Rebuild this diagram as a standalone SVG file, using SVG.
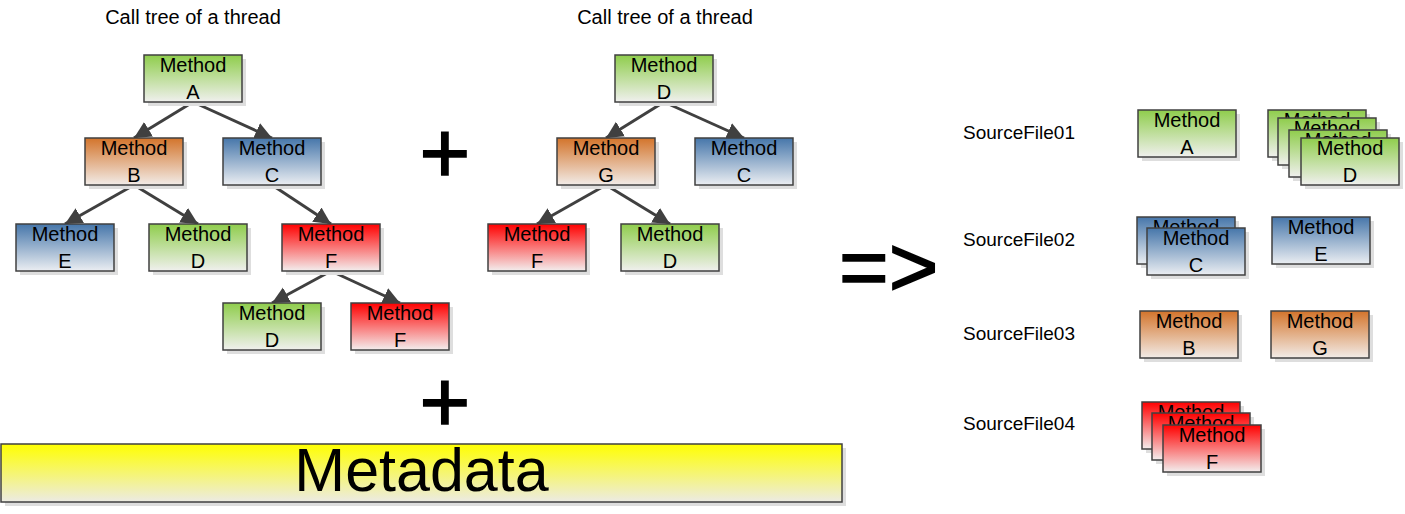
<svg xmlns="http://www.w3.org/2000/svg" width="1405" height="514" viewBox="0 0 1405 514">
<style>
text{font-family:"Liberation Sans",Arial,sans-serif;fill:#000}
.t{font-size:20px;text-anchor:middle}
.lbl{font-size:19px}
.title{font-size:20px;text-anchor:middle}
.box{stroke:#404040;stroke-width:1.5}
.sh{fill:#dedede}
.g{fill:url(#gGreen)}
.o{fill:url(#gOrange)}
.b{fill:url(#gBlue)}
.r{fill:url(#gRed)}
.edge{stroke:#404040;stroke-width:3;fill:none;marker-end:url(#ah)}
.big{font-size:87px;text-anchor:middle;stroke:#000;stroke-width:1.6}
</style>
<defs>
<linearGradient id="gGreen" x1="0" y1="0" x2="0" y2="1"><stop offset="0" stop-color="#8fcd4c"/><stop offset="1" stop-color="#f0f0ee"/></linearGradient>
<linearGradient id="gOrange" x1="0" y1="0" x2="0" y2="1"><stop offset="0" stop-color="#d3742b"/><stop offset="1" stop-color="#f2ece8"/></linearGradient>
<linearGradient id="gBlue" x1="0" y1="0" x2="0" y2="1"><stop offset="0" stop-color="#4676aa"/><stop offset="1" stop-color="#ebeef2"/></linearGradient>
<linearGradient id="gRed" x1="0" y1="0" x2="0" y2="1"><stop offset="0" stop-color="#ff0000"/><stop offset="1" stop-color="#f3eeee"/></linearGradient>
<linearGradient id="gYellow" x1="0" y1="0" x2="0" y2="1"><stop offset="0" stop-color="#ffff00"/><stop offset="1" stop-color="#ecebe4"/></linearGradient>
<marker id="ah" markerUnits="userSpaceOnUse" markerWidth="18" markerHeight="18" refX="17" refY="8.5" orient="auto">
<path d="M0,0 L17,8.5 L0,17 Z" fill="#404040"/>
</marker>
</defs>

<text class="title" x="193" y="24">Call tree of a thread</text>
<text class="title" x="665" y="24">Call tree of a thread</text>

<g id="connectors">
<line class="edge" x1="193" y1="102" x2="134" y2="138"/>
<line class="edge" x1="193" y1="102" x2="272" y2="138"/>
<line class="edge" x1="134" y1="185" x2="65" y2="224"/>
<line class="edge" x1="134" y1="185" x2="198" y2="224"/>
<line class="edge" x1="272" y1="185" x2="331" y2="224"/>
<line class="edge" x1="331" y1="271" x2="272" y2="303"/>
<line class="edge" x1="331" y1="271" x2="400" y2="303"/>
<line class="edge" x1="664" y1="102" x2="606" y2="138"/>
<line class="edge" x1="664" y1="102" x2="744" y2="138"/>
<line class="edge" x1="606" y1="185" x2="537" y2="224"/>
<line class="edge" x1="606" y1="185" x2="670" y2="224"/>
</g>

<!-- Tree 1 -->
<g id="t1A"><rect class="sh" x="148" y="59" width="98" height="47"/><rect class="box g" x="144" y="55" width="98" height="47"/><text class="t" x="193" y="72">Method</text><text class="t" x="193" y="99">A</text></g>
<g id="t1B"><rect class="sh" x="89" y="142" width="98" height="47"/><rect class="box o" x="85" y="138" width="98" height="47"/><text class="t" x="134" y="155">Method</text><text class="t" x="134" y="182">B</text></g>
<g id="t1C"><rect class="sh" x="227" y="142" width="98" height="47"/><rect class="box b" x="223" y="138" width="98" height="47"/><text class="t" x="272" y="155">Method</text><text class="t" x="272" y="182">C</text></g>
<g id="t1E"><rect class="sh" x="20" y="228" width="98" height="47"/><rect class="box b" x="16" y="224" width="98" height="47"/><text class="t" x="65" y="241">Method</text><text class="t" x="65" y="268">E</text></g>
<g id="t1D"><rect class="sh" x="153" y="228" width="98" height="47"/><rect class="box g" x="149" y="224" width="98" height="47"/><text class="t" x="198" y="241">Method</text><text class="t" x="198" y="268">D</text></g>
<g id="t1F"><rect class="sh" x="286" y="228" width="98" height="47"/><rect class="box r" x="282" y="224" width="98" height="47"/><text class="t" x="331" y="241">Method</text><text class="t" x="331" y="268">F</text></g>
<g id="t1D2"><rect class="sh" x="227" y="307" width="98" height="47"/><rect class="box g" x="223" y="303" width="98" height="47"/><text class="t" x="272" y="320">Method</text><text class="t" x="272" y="347">D</text></g>
<g id="t1F2"><rect class="sh" x="355" y="307" width="98" height="47"/><rect class="box r" x="351" y="303" width="98" height="47"/><text class="t" x="400" y="320">Method</text><text class="t" x="400" y="347">F</text></g>

<!-- Tree 2 -->
<g id="t2D"><rect class="sh" x="619" y="59" width="98" height="47"/><rect class="box g" x="615" y="55" width="98" height="47"/><text class="t" x="664" y="72">Method</text><text class="t" x="664" y="99">D</text></g>
<g id="t2G"><rect class="sh" x="561" y="142" width="98" height="47"/><rect class="box o" x="557" y="138" width="98" height="47"/><text class="t" x="606" y="155">Method</text><text class="t" x="606" y="182">G</text></g>
<g id="t2C"><rect class="sh" x="699" y="142" width="98" height="47"/><rect class="box b" x="695" y="138" width="98" height="47"/><text class="t" x="744" y="155">Method</text><text class="t" x="744" y="182">C</text></g>
<g id="t2F"><rect class="sh" x="492" y="228" width="98" height="47"/><rect class="box r" x="488" y="224" width="98" height="47"/><text class="t" x="537" y="241">Method</text><text class="t" x="537" y="268">F</text></g>
<g id="t2D2"><rect class="sh" x="625" y="228" width="98" height="47"/><rect class="box g" x="621" y="224" width="98" height="47"/><text class="t" x="670" y="241">Method</text><text class="t" x="670" y="268">D</text></g>

<text class="big" x="445" y="183">+</text>
<text class="big" x="445" y="432">+</text>
<text x="839" y="296" style="font-size:85px;stroke:#000;stroke-width:1.6">=&gt;</text>

<!-- Metadata -->
<g id="metadata"><rect class="sh" x="5" y="448" width="841" height="58"/><rect class="box" x="1" y="444" width="841" height="58" fill="url(#gYellow)"/><text x="421.5" y="491" style="font-size:61px;text-anchor:middle">Metadata</text></g>

<!-- Right side -->
<text class="lbl" x="963" y="139">SourceFile01</text>
<text class="lbl" x="963" y="246">SourceFile02</text>
<text class="lbl" x="963" y="340">SourceFile03</text>
<text class="lbl" x="963" y="430">SourceFile04</text>

<g id="sA"><rect class="sh" x="1142" y="114" width="98" height="47"/><rect class="box g" x="1138" y="110" width="98" height="47"/><text class="t" x="1187" y="127">Method</text><text class="t" x="1187" y="154">A</text></g>
<g id="sD">
<rect class="sh" x="1272" y="114" width="98" height="47"/><rect class="box g" x="1268" y="110" width="98" height="47"/><text class="t" x="1317" y="127">Method</text>
<rect class="sh" x="1282" y="122" width="98" height="47"/><rect class="box g" x="1278" y="118" width="98" height="47"/><text class="t" x="1327" y="135">Method</text>
<rect class="sh" x="1293" y="134" width="98" height="47"/><rect class="box g" x="1289" y="130" width="98" height="47"/><text class="t" x="1338" y="147">Method</text>
<rect class="sh" x="1305" y="142" width="98" height="47"/><rect class="box g" x="1301" y="138" width="98" height="47"/><text class="t" x="1350" y="155">Method</text><text class="t" x="1350" y="182">D</text>
</g>
<g id="sC">
<rect class="sh" x="1141" y="221" width="98" height="47"/><rect class="box b" x="1137" y="217" width="98" height="47"/><text class="t" x="1186" y="234">Method</text>
<rect class="sh" x="1151" y="232" width="98" height="47"/><rect class="box b" x="1147" y="228" width="98" height="47"/><text class="t" x="1196" y="245">Method</text><text class="t" x="1196" y="272">C</text>
</g>
<g id="sE"><rect class="sh" x="1276" y="221" width="98" height="47"/><rect class="box b" x="1272" y="217" width="98" height="47"/><text class="t" x="1321" y="234">Method</text><text class="t" x="1321" y="261">E</text></g>
<g id="sB"><rect class="sh" x="1144" y="315" width="98" height="47"/><rect class="box o" x="1140" y="311" width="98" height="47"/><text class="t" x="1189" y="328">Method</text><text class="t" x="1189" y="355">B</text></g>
<g id="sG"><rect class="sh" x="1275" y="315" width="98" height="47"/><rect class="box o" x="1271" y="311" width="98" height="47"/><text class="t" x="1320" y="328">Method</text><text class="t" x="1320" y="355">G</text></g>
<g id="sF">
<rect class="sh" x="1146" y="406" width="98" height="47"/><rect class="box r" x="1142" y="402" width="98" height="47"/><text class="t" x="1191" y="419">Method</text>
<rect class="sh" x="1156" y="417" width="98" height="47"/><rect class="box r" x="1152" y="413" width="98" height="47"/><text class="t" x="1201" y="430">Method</text>
<rect class="sh" x="1167" y="429" width="98" height="47"/><rect class="box r" x="1163" y="425" width="98" height="47"/><text class="t" x="1212" y="442">Method</text><text class="t" x="1212" y="469">F</text>
</g>
</svg>
